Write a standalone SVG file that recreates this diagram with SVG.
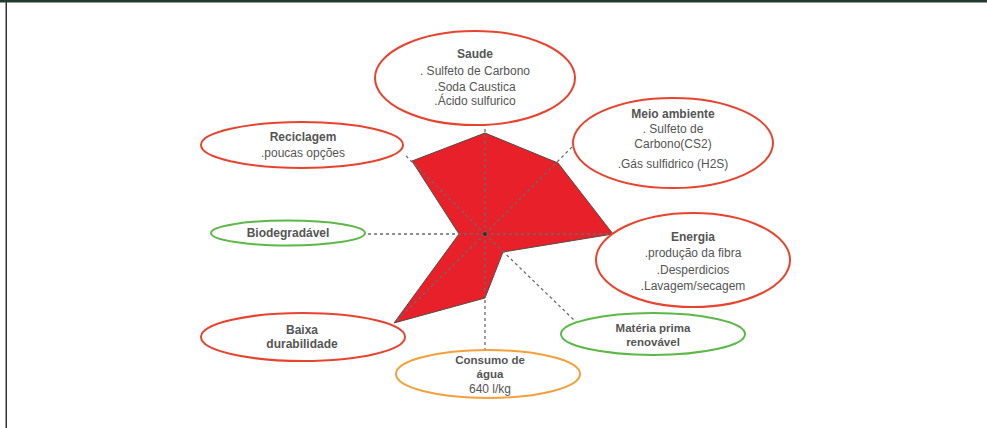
<svg xmlns="http://www.w3.org/2000/svg" width="987" height="428" viewBox="0 0 987 428">
  <style>
    .bg { fill: #ffffff; }
    .oval { fill: #ffffff; stroke-width: 2; }
    .red { stroke: #e8432e; }
    .green { stroke: #5cb847; }
    .orange { stroke: #f5a03a; }
    .spoke { stroke: #6b6b6b; stroke-width: 1.3; stroke-dasharray: 3 3; fill: none; }
    .area { fill: #e8202a; stroke: #5a4a40; stroke-width: 1; }
    text { font-family: "Liberation Sans", Arial, sans-serif; font-size: 12px; fill: #555555; text-anchor: middle; }
    .title { font-weight: bold; }
    .tight { font-size: 11.5px; }
  </style>

  <rect class="bg" x="0" y="0" width="987" height="428"/>
  <!-- frame -->
  <rect x="0" y="0" width="987" height="2.5" fill="#233a2c"/>
  <rect x="5.5" y="2" width="1.5" height="426" fill="#333333"/>

  <!-- radar area -->
  <g id="chart">
    <polygon class="area" points="485,133 558,163 613,234 503,252 485,298 394,323 459,234 412,161"/>
  </g>

  <!-- axes -->
  <g id="connectors">
    <line class="spoke" x1="485" y1="234" x2="485" y2="125"/>
    <line class="spoke" x1="485" y1="234" x2="404" y2="154"/>
    <line class="spoke" x1="485" y1="234" x2="573" y2="146"/>
    <line class="spoke" x1="485" y1="234" x2="365" y2="234"/>
    <line class="spoke" x1="485" y1="234" x2="612" y2="234"/>
    <line class="spoke" x1="485" y1="234" x2="575" y2="321"/>
    <line class="spoke" x1="485" y1="234" x2="485" y2="350"/>
    <line class="spoke" x1="485" y1="234" x2="395" y2="322"/>
    <circle cx="485" cy="234" r="2" fill="#333333"/>
  </g>

  <g id="saude">
    <ellipse class="oval red" cx="475" cy="78" rx="100" ry="47"/>
    <text class="title" x="475" y="58">Saude</text>
    <text x="475" y="75">. Sulfeto de Carbono</text>
    <text x="475" y="91">.Soda Caustica</text>
    <text x="475" y="105">.Ácido sulfurico</text>
  </g>

  <g id="reciclagem">
    <ellipse class="oval red" cx="302" cy="145" rx="101" ry="23"/>
    <text class="title" x="303" y="141">Reciclagem</text>
    <text x="303" y="157">.poucas opções</text>
  </g>

  <g id="meio-ambiente">
    <ellipse class="oval red" cx="673" cy="143" rx="100" ry="45"/>
    <text class="title" x="673" y="118">Meio ambiente</text>
    <text x="673" y="133">. Sulfeto de</text>
    <text x="673" y="148">Carbono(CS2)</text>
    <text x="673" y="168">.Gás sulfidrico (H2S)</text>
  </g>

  <g id="biodegradavel">
    <ellipse class="oval green" cx="288" cy="233" rx="77" ry="12.5"/>
    <text class="title" x="288" y="237">Biodegradável</text>
  </g>

  <g id="energia">
    <ellipse class="oval red" cx="693" cy="260" rx="97" ry="47"/>
    <text class="title" x="693" y="241">Energia</text>
    <text x="693" y="257">.produção da fibra</text>
    <text x="693" y="274">.Desperdicios</text>
    <text x="693" y="290">.Lavagem/secagem</text>
  </g>

  <g id="baixa-durabilidade">
    <ellipse class="oval red" cx="303" cy="337" rx="102" ry="24"/>
    <text class="title" x="302" y="334">Baixa</text>
    <text class="title" x="302" y="348">durabilidade</text>
  </g>

  <g id="materia-prima">
    <ellipse class="oval green" cx="653" cy="334" rx="92" ry="21"/>
    <text class="title tight" x="653" y="332">Matéria prima</text>
    <text class="title tight" x="653" y="345.5">renovável</text>
  </g>

  <g id="consumo-agua">
    <ellipse class="oval orange" cx="488" cy="374" rx="92" ry="24"/>
    <text class="title tight" x="490" y="364">Consumo de</text>
    <text class="title tight" x="490" y="377.5">água</text>
    <text x="490" y="393">640 l/kg</text>
  </g>
</svg>
